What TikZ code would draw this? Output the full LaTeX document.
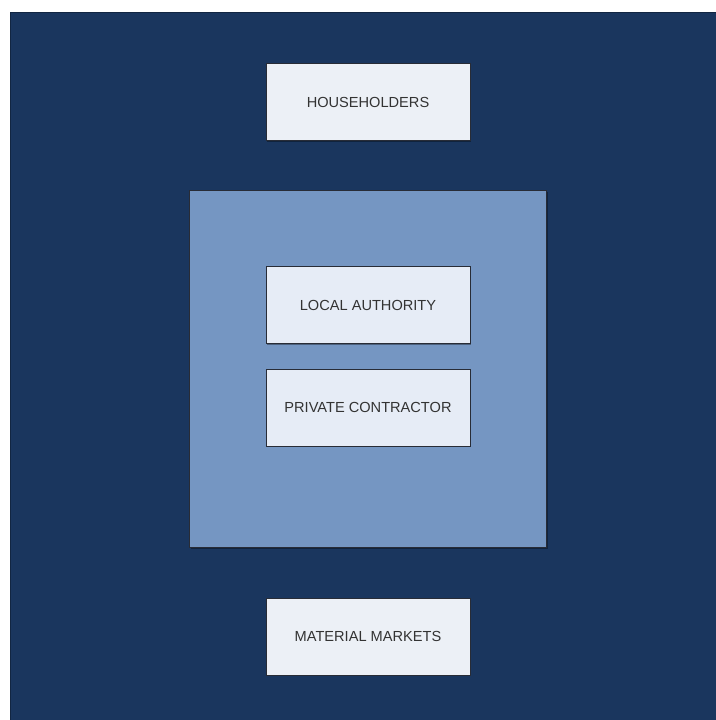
\documentclass[tikz,border=0pt]{standalone}
\usepackage{fontspec}
\setmainfont{Liberation Sans}
\usetikzlibrary{positioning,shadows}

\definecolor{navy}{RGB}{26,54,94}
\definecolor{panelblue}{RGB}{117,150,194}
\definecolor{boxlight}{RGB}{236,240,246}
\definecolor{boxinner}{RGB}{230,236,246}
\definecolor{edgegray}{RGB}{40,44,54}

\begin{document}
\begin{tikzpicture}[
	x = 1pt, y = -1pt, % pixel-like units, y downwards
	font = \fontsize{14.6}{16}\selectfont,
	Bg/.style={fill=navy, draw=navy!70!black, line width=1pt},
	Panel/.style={rectangle, fill=panelblue, draw=edgegray, line width=1pt, minimum width=357pt, minimum height=357pt, inner sep=0pt,
		drop shadow={shadow xshift=1.5pt, shadow yshift=-1.5pt, fill=black, opacity=0.35}},
	Box/.style={rectangle, fill=boxlight, draw=edgegray, line width=1pt, minimum width=204pt, minimum height=77pt, inner sep=0pt, text=black!80,
		drop shadow={shadow xshift=1pt, shadow yshift=-1pt, fill=black, opacity=0.35}},
	]

	% Canvas and background
	\useasboundingbox (0,0) rectangle (715,720);
	\fill[white] (0,0) rectangle (715,720);
	\path[Bg] (10.5,12.5) rectangle (716,721);

	% Nodes
	\node[Panel] (Agency) at (368,369) {};
	\node[Box] (Households) at (368,102) {HOUSEHOLDERS};
	\node[Box, fill=boxinner] (LocalAuth) at (368,305) {LOCAL AUTHORITY};
	\node[Box, fill=boxinner] (Contractor) at (368,407.5) {PRIVATE CONTRACTOR};
	\node[Box] (Markets) at (368,636.5) {MATERIAL MARKETS};
\end{tikzpicture}
\end{document}
